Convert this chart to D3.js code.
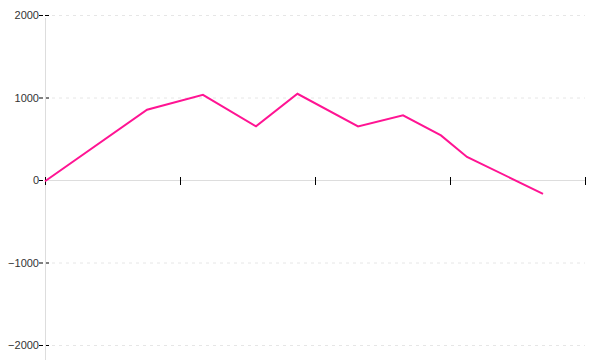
<!DOCTYPE html>
<html>
<head>
<meta charset="utf-8">
<script src="https://cdn.jsdelivr.net/npm/d3@7"></script>
<style>
  body { margin: 0; background: #fff; }
  svg { display: block; }
</style>
</head>
<body>
<div id="chart"></div>
<script>
// x positions are in tick units (ticks at 0..4, no labels)
const xValues = [0, 0.756, 1.170, 1.563, 1.870, 2.319, 2.652, 2.933, 3.126, 3.689];
const yValues = [-15, 852, 1033, 650, 1045, 650, 783, 541, 280, -167];
const xTicks = [0, 1, 2, 3, 4];
const yTicks = [-2000, -1000, 0, 1000, 2000];

const width = 600;
const height = 360;
const margin = { top: 15, right: 15, bottom: 15, left: 45 };

const svg = d3.select('#chart')
  .append('svg')
  .attr('width', width)
  .attr('height', height);

const x = d3.scaleLinear()
  .domain([0, 4])
  .range([margin.left, width - margin.right]);

const y = d3.scaleLinear()
  .domain([-2000, 2000])
  .range([height - margin.bottom, margin.top]);

// dotted grid
svg.append('g')
  .selectAll('line')
  .data(yTicks.filter(d => d !== 0))
  .join('line')
  .attr('x1', margin.left + 7)
  .attr('x2', width - margin.right)
  .attr('y1', d => y(d) + 0.5)
  .attr('y2', d => y(d) + 0.5)
  .style('stroke', '#e6e6e6')
  .style('stroke-dasharray', '3,4');

// y axis
const yAxis = svg.append('g')
  .attr('transform', `translate(${margin.left},0)`)
  .call(d3.axisLeft(y).tickValues(yTicks).tickSize(6).tickFormat(d3.format('d')));

yAxis.select('.domain').remove();
yAxis.selectAll('.tick line')
  .attr('x1', 4)
  .attr('x2', -6)
  .style('stroke', '#000')
  .style('stroke-dasharray', '4,2');
yAxis.selectAll('.tick text')
  .attr('x', -6)
  .style('font-family', '"Liberation Sans", Arial, sans-serif')
  .style('font-size', '11px')
  .style('fill', '#333');

svg.append('line')
  .attr('x1', margin.left + 0.5)
  .attr('x2', margin.left + 0.5)
  .attr('y1', margin.top + 3)
  .attr('y2', height)
  .style('stroke', '#ddd');

// x axis at zero
const xAxis = svg.append('g')
  .attr('transform', `translate(0,${Math.round(y(0))})`)
  .call(d3.axisBottom(x).tickValues(xTicks).tickSize(5).tickFormat(''));

xAxis.select('.domain')
  .attr('d', `M${x(0)},0.5H${x(4)}`)
  .style('stroke', '#ddd');
xAxis.selectAll('.tick line')
  .attr('y1', -3)
  .attr('y2', 5)
  .style('stroke', '#000');

// series line
const points = xValues.map((d, i) => [d, yValues[i]]);

svg.append('path')
  .datum(points)
  .attr('d', d3.line().x(d => x(d[0])).y(d => y(d[1])))
  .style('fill', 'none')
  .style('stroke', '#ff1493')
  .style('stroke-width', 2);
</script>
</body>
</html>
